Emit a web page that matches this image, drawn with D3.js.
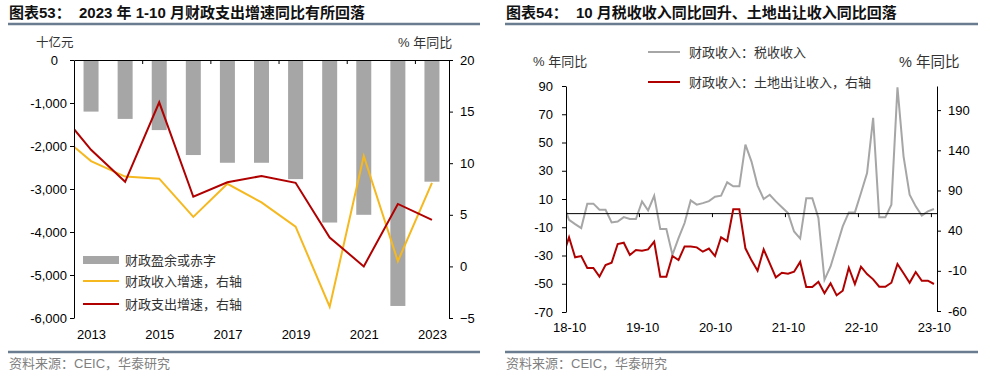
<!DOCTYPE html>
<html>
<head>
<meta charset="utf-8">
<script src="https://cdn.jsdelivr.net/npm/d3@7/dist/d3.min.js"></script>
<style>
  body { margin: 0; background: #fff; }
  text { font-family: "Liberation Sans", "Noto Sans CJK SC", sans-serif; }
</style>
</head>
<body>
<svg id="chart" width="983" height="377"></svg>
<script>
// ---- left chart data (十亿元 / % 年同比) ----
var barYears = [2013, 2014, 2015, 2016, 2017, 2018, 2019, 2020, 2021, 2022, 2023];
var deficit = [-1200, -1370, -1630, -2210, -2390, -2390, -2770, -3780, -3600, -5720, -2830];
// 2012 point sits left of the axis and is clipped
var lineYears = [2012, 2013, 2014, 2015, 2016, 2017, 2018, 2019, 2020, 2021, 2022, 2023];
var revenueGrowth = [13.0, 10.2, 8.7, 8.5, 4.8, 8.0, 6.2, 3.85, -3.9, 10.7, 0.5, 8.1];
var spendingGrowth = [15.3, 11.3, 8.2, 15.9, 6.75, 8.15, 8.76, 8.1, 2.8, 0.0, 6.05, 4.5];
var yearLabels = [2013, 2015, 2017, 2019, 2021, 2023];
var leftTicks = [0, -1000, -2000, -3000, -4000, -5000, -6000];
var pctTicks = [20, 15, 10, 5, 0, -5];

// ---- right chart data, monthly 2018-09 .. 2023-10 (first month clipped) ----
var taxRevenue = [7, -4.7, -7.8, -10.6, 6.7, 6.7, 2.4, 2.4, -6.6, -5.9, -2.8, -4.2, -4.2,
  8.3, 1.9, 12.3, -11.3, -11.3, -29.5, -17.7, -7.0, 9.0, 6.0, 7.1, 8.5,
  11.6, 12.4, 21.8, 19, 19, 48.5, 36.5, 19.5, 10, 13, 8.3, 4.2,
  0, -13, -18, 10.5, 10.5, -3.4, -47.2, -37.8, -23.6, -9.4, 0.5, 0.5,
  14.2, 28.4, 67.4, -3, -3, 6, 89, 40.2, 13, 4.8, -1.8, 1.2, 2.9];
var landSales = [9, 31.7, 6.8, 8.4, -6.5, -6.5, -17.3, -2.8, 0.1, 23.3, 25, 9.7, 15.9,
  15, 16.7, 26.2, -17.3, -17.3, 8.4, 3.4, 20.4, 20.4, 19.2, 13.8, 17.7,
  8.4, 31.7, 27, 66.5, 66.5, 18, 3, -10, 16.7, -0.7, -18.1, -12.4,
  -13.5, -11.1, 1.1, -30.2, -30.2, -23.6, -38, -25.5, -40.5, -34.8, -6.1, -26.4,
  -4.9, -14, -20.6, -29.8, -29.8, -24.8, -1.5, -13.1, -24.8, -11.5, -22.3, -22.3, -26.4];
var monthLabels = ["18-10", "19-10", "20-10", "21-10", "22-10", "23-10"];
var taxTicks = [90, 70, 50, 30, 10, -10, -30, -50, -70];
var landTicks = [190, 140, 90, 40, -10, -60];

var months = [];
for (var y = 2018, m = 9; months.length < taxRevenue.length; m++) {
  if (m > 12) { m = 1; y++; }
  months.push(y + "-" + (m < 10 ? "0" + m : m));
}

var svg = d3.select("#chart");
var fmt = function(d) { return d3.format(",")(d).replace("\u2212", "-"); };

function header(x0, x1, title) {
  svg.append("text").attr("x", x0 + 1).attr("y", 18)
    .attr("font-size", 15).attr("font-weight", "bold").attr("fill", "#111")
    .style("white-space", "pre").text(title);
  svg.append("line").attr("x1", x0).attr("x2", x1).attr("y1", 24).attr("y2", 24)
    .attr("stroke", "#6a7d90").attr("stroke-width", 2.5);
  svg.append("line").attr("x1", x0).attr("x2", x1).attr("y1", 352).attr("y2", 352)
    .attr("stroke", "#6a7d90").attr("stroke-width", 2.5);
  svg.append("text").attr("x", x0 + 1).attr("y", 368)
    .attr("font-size", 13).attr("fill", "#7f7f7f").text("资料来源：CEIC，华泰研究");
}

function styleAxis(g) {
  g.selectAll("path, line").attr("stroke", "#000");
  g.selectAll("text").attr("font-size", 13).attr("fill", "#000");
}

// ================= left chart =================
header(8, 480, "图表53：  2023 年 1-10 月财政支出增速同比有所回落");

var xL = d3.scaleLinear().domain([2012.5, 2023.5]).range([74, 449]);
var yBar = d3.scaleLinear().domain([-6000, 0]).range([318, 60]);
var yPct = d3.scaleLinear().domain([-5, 20]).range([318, 60]);

svg.append("clipPath").attr("id", "clipL").append("rect")
  .attr("x", 74).attr("y", 40).attr("width", 375).attr("height", 290);

svg.append("g").selectAll("rect").data(deficit).enter().append("rect")
  .attr("x", function(d, i) { return xL(barYears[i]) - 7.5; })
  .attr("y", yBar(0))
  .attr("width", 15)
  .attr("height", function(d) { return yBar(d) - yBar(0); })
  .attr("fill", "#a6a6a6");

var lineL = d3.line().x(function(d) { return xL(d[0]); }).y(function(d) { return yPct(d[1]); });
[[revenueGrowth, "#f5b81f"], [spendingGrowth, "#b00000"]].forEach(function(s) {
  svg.append("path")
    .datum(lineYears.map(function(yr, i) { return [yr, s[0][i]]; }))
    .attr("d", lineL).attr("fill", "none").attr("stroke", s[1]).attr("stroke-width", 2)
    .attr("clip-path", "url(#clipL)");
});

svg.append("g").attr("transform", "translate(74,0)")
  .call(d3.axisLeft(yBar).tickValues(leftTicks).tickFormat(fmt).tickSize(4).tickPadding(3).tickSizeOuter(0))
  .call(styleAxis)
  // the "0" label sits further left in the original
  .call(function(g) { g.selectAll(".tick text").filter(function(d) { return d === 0; }).attr("dx", -9); });
svg.append("g").attr("transform", "translate(449,0)")
  .call(d3.axisRight(yPct).tickValues(pctTicks).tickSize(4).tickPadding(7).tickSizeOuter(0))
  .call(styleAxis);
svg.append("g").attr("transform", "translate(0,60)")
  .call(d3.axisBottom(xL).tickValues([2014.5, 2016.5, 2018.5, 2020.5, 2022.5]).tickFormat("").tickSize(4).tickSizeOuter(0))
  .call(styleAxis);
svg.append("g").attr("transform", "translate(0,318)")
  .call(d3.axisBottom(xL).tickValues(yearLabels).tickFormat(d3.format("d")).tickSize(0).tickPadding(12))
  .call(styleAxis)
  .call(function(g) { g.select(".domain").remove(); });

svg.append("text").attr("x", 36).attr("y", 47).attr("font-size", 12.5).attr("fill", "#333").text("十亿元");
svg.append("text").attr("x", 398).attr("y", 47).attr("font-size", 13).attr("fill", "#333").text("% 年同比");

var legL = svg.append("g").attr("font-size", 13).attr("fill", "#333");
legL.append("rect").attr("x", 83).attr("y", 256).attr("width", 36).attr("height", 8).attr("fill", "#a6a6a6");
legL.append("line").attr("x1", 83).attr("x2", 119).attr("y1", 281).attr("y2", 281).attr("stroke", "#f5b81f").attr("stroke-width", 2);
legL.append("line").attr("x1", 83).attr("x2", 119).attr("y1", 304).attr("y2", 304).attr("stroke", "#b00000").attr("stroke-width", 2);
legL.append("text").attr("x", 125).attr("y", 260).attr("dy", "0.35em").text("财政盈余或赤字");
legL.append("text").attr("x", 125).attr("y", 281).attr("dy", "0.35em").text("财政收入增速，右轴");
legL.append("text").attr("x", 125).attr("y", 304).attr("dy", "0.35em").text("财政支出增速，右轴");

// ================= right chart =================
header(505, 978, "图表54：  10 月税收收入同比回升、土地出让收入同比回落");

var xR = d3.scaleLinear().domain([0.5, months.length - 0.5]).range([566, 937]);
var yTax = d3.scaleLinear().domain([-70, 90]).range([312, 86]);
var yLand = d3.scaleLinear().domain([-60, 220]).range([311, 86]);

svg.append("clipPath").attr("id", "clipR").append("rect")
  .attr("x", 566).attr("y", 60).attr("width", 371).attr("height", 270);

svg.append("path").datum(taxRevenue)
  .attr("d", d3.line().x(function(d, i) { return xR(i); }).y(function(d) { return yTax(d); }))
  .attr("fill", "none").attr("stroke", "#a6a6a6").attr("stroke-width", 2)
  .attr("clip-path", "url(#clipR)");

svg.append("g").attr("transform", "translate(0," + yTax(0) + ")")
  .call(d3.axisBottom(xR).tickValues([12.5, 24.5, 36.5, 48.5, 60.5]).tickFormat("").tickSize(4).tickSizeOuter(0))
  .call(styleAxis);

svg.append("path").datum(landSales)
  .attr("d", d3.line().x(function(d, i) { return xR(i); }).y(function(d) { return yLand(d); }))
  .attr("fill", "none").attr("stroke", "#b00000").attr("stroke-width", 2)
  .attr("clip-path", "url(#clipR)");

svg.append("g").attr("transform", "translate(566,0)")
  .call(d3.axisLeft(yTax).tickValues(taxTicks).tickSize(4).tickPadding(9).tickSizeOuter(0)
    .tickFormat(function(d) { return String(d); }))
  .call(styleAxis);
svg.append("g").attr("transform", "translate(937,0)")
  .call(d3.axisRight(yLand).tickValues(landTicks).tickSize(4).tickPadding(7).tickSizeOuter(0)
    .tickFormat(function(d) { return String(d); }))
  .call(styleAxis);

var labelIdx = monthLabels.map(function(l) { return months.indexOf("20" + l.slice(0, 2) + "-" + l.slice(3)); });
svg.append("g").attr("transform", "translate(0,312)")
  .call(d3.axisBottom(xR).tickValues(labelIdx).tickFormat(function(d, i) { return monthLabels[i]; }).tickSize(0).tickPadding(10.5))
  .call(styleAxis)
  .call(function(g) { g.select(".domain").remove(); });

svg.append("text").attr("x", 533).attr("y", 66).attr("font-size", 13).attr("fill", "#333").text("% 年同比");
svg.append("text").attr("x", 899).attr("y", 67).attr("font-size", 14.5).attr("fill", "#333").text("% 年同比");

var legR = svg.append("g").attr("font-size", 13).attr("fill", "#333");
legR.append("line").attr("x1", 648).attr("x2", 680).attr("y1", 52).attr("y2", 52).attr("stroke", "#a6a6a6").attr("stroke-width", 2);
legR.append("line").attr("x1", 648).attr("x2", 680).attr("y1", 82).attr("y2", 82).attr("stroke", "#b00000").attr("stroke-width", 2);
legR.append("text").attr("x", 689).attr("y", 52).attr("dy", "0.35em").text("财政收入：税收收入");
legR.append("text").attr("x", 689).attr("y", 82).attr("dy", "0.35em").text("财政收入：土地出让收入，右轴");
</script>
</body>
</html>
